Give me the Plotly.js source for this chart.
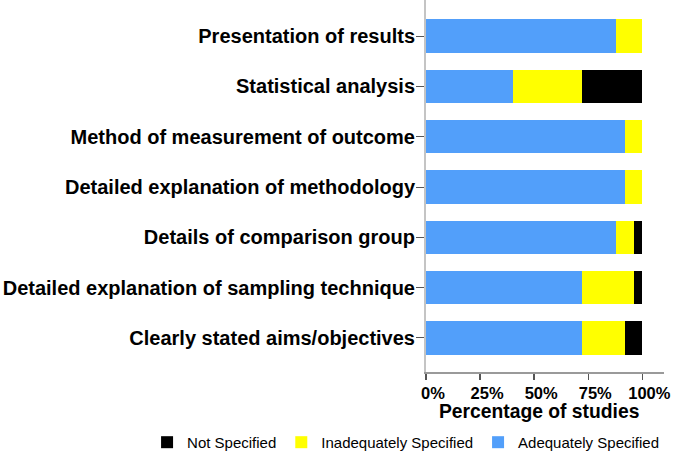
<!DOCTYPE html>
<html>
<head>
<meta charset="utf-8">
<script src="https://cdn.plot.ly/plotly-3.0.1.min.js"></script>
<style>
  html, body { margin: 0; padding: 0; background: #ffffff; }
  #chart { width: 677px; height: 454px; }
</style>
</head>
<body>
<div id="chart"></div>
<script>
// Quality criteria, listed top to bottom
const criteria = [
  'Presentation of results',
  'Statistical analysis',
  'Method of measurement of outcome',
  'Detailed explanation of methodology',
  'Details of comparison group',
  'Detailed explanation of sampling technique',
  'Clearly stated aims/objectives'
];

// Percentage of studies in each rating
const adequately   = [88, 40, 92, 92, 88, 72, 72];
const inadequately = [12, 32,  8,  8,  8, 24, 20];
const notSpecified = [ 0, 28,  0,  0,  4,  4,  8];

const xTicks = [0, 25, 50, 75, 100];
const xTickText = ['0%', '25%', '50%', '75%', '100%'];
const xTitle = 'Percentage of studies';

const FONT = '"Liberation Sans", Arial, sans-serif';

function series(name, values, color) {
  return {
    type: 'bar',
    orientation: 'h',
    name: name,
    y: criteria,
    x: values,
    marker: { color: color, line: { width: 0 } },
    hoverinfo: 'x+y+name'
  };
}

const data = [
  series('Adequately Specified', adequately, '#529ffa'),
  series('Inadequately Specified', inadequately, '#ffff00'),
  series('Not Specified', notSpecified, '#000000')
];

const layout = {
  width: 677,
  height: 454,
  // fixed plot area; the legend sits in the bottom margin without pushing it
  margin: { l: 426, r: 13, t: 0, b: 82, autoexpand: false },
  paper_bgcolor: '#ffffff',
  plot_bgcolor: '#ffffff',
  barmode: 'stack',
  bargap: 0.34,
  font: { family: FONT, color: '#000000' },
  xaxis: {
    range: [0, 110],
    tickvals: xTicks,
    ticktext: xTickText,
    ticks: 'outside',
    ticklen: 6,
    tickwidth: 1.5,
    tickcolor: '#555555',
    ticklabelshift: 7,
    showline: true,
    linecolor: '#9a9a9a',
    linewidth: 1.5,
    showgrid: false,
    zeroline: false,
    tickfont: { family: FONT, size: 16.5, weight: 'bold', color: '#000000' }
  },
  yaxis: {
    type: 'category',
    categoryorder: 'array',
    categoryarray: criteria,
    range: [6.676, -0.716],
    ticks: 'outside',
    ticklen: 8,
    tickwidth: 1,
    tickcolor: '#555555',
    showline: true,
    linecolor: '#c4c4c4',
    linewidth: 2,
    showgrid: false,
    zeroline: false,
    ticklabelstandoff: -3,
    tickfont: { family: FONT, size: 20, weight: 'bold', color: '#000000' }
  },
  annotations: [{
    text: xTitle,
    xref: 'paper', yref: 'paper',
    x: 0.473, y: -0.107,
    xanchor: 'center', yanchor: 'middle',
    showarrow: false,
    font: { family: FONT, size: 19.3, weight: 'bold', color: '#000000' }
  }],
  showlegend: true,
  legend: {
    orientation: 'h',
    traceorder: 'reversed',
    xref: 'paper',
    yref: 'paper',
    x: -1.172,
    xanchor: 'left',
    y: -0.145,
    yanchor: 'top',
    font: { family: FONT, size: 15, color: '#000000' },
    bgcolor: 'rgba(0,0,0,0)'
  }
};

Plotly.newPlot('chart', data, layout, { displayModeBar: false, staticPlot: true });
</script>
</body>
</html>
